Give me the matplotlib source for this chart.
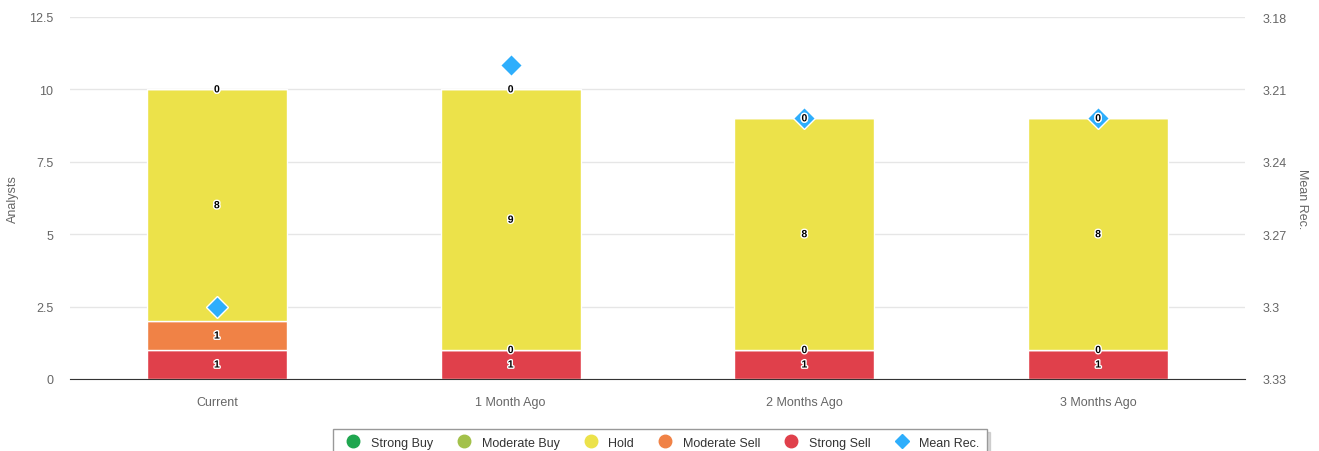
import matplotlib.pyplot as plt
import matplotlib.patheffects as pe
from matplotlib.lines import Line2D
import numpy as np

plt.rcParams['font.family'] = ['Liberation Sans', 'DejaVu Sans']

periods = ['Current', '1 Month Ago', '2 Months Ago', '3 Months Ago']
strong_sell = [1, 1, 1, 1]
moderate_sell = [1, 0, 0, 0]
hold = [8, 9, 8, 8]
moderate_buy = [0, 0, 0, 0]
strong_buy = [0, 0, 0, 0]
mean_rec = [3.30, 3.20, 3.222, 3.222]

series = [
    ('Strong Sell', strong_sell, '#e0404b'),
    ('Moderate Sell', moderate_sell, '#f08246'),
    ('Hold', hold, '#ece24a'),
    ('Moderate Buy', moderate_buy, '#a3c14a'),
    ('Strong Buy', strong_buy, '#1fa64f'),
]

fig = plt.figure(figsize=(13.19, 4.52), dpi=100)
ax = fig.add_axes([70 / 1319, 1 - 380 / 452, 1175 / 1319, 362 / 452])
ax2 = ax.twinx()

x = np.arange(len(periods))
bottom = np.zeros(len(periods))
for name, vals, col in series:
    vals = np.array(vals, dtype=float)
    ax.bar(x, vals, 0.477, bottom=bottom, color=col, edgecolor='white',
           linewidth=1, zorder=2)
    # labels go on ax2 so they sit above the diamonds
    for xi, b, v in zip(x, bottom, vals):
        ax2.text(xi, b + v / 2, f'{int(v)}', ha='center', va='center',
                 transform=ax.transData,
                 fontsize=7.5, fontweight='bold', color='black', zorder=8,
                 path_effects=[pe.withStroke(linewidth=2, foreground='white')])
    bottom += vals

ax.set_xlim(-0.5, len(periods) - 0.5)
ax.set_ylim(0, 12.5)
ax.set_yticks([0, 2.5, 5, 7.5, 10, 12.5])
ax.set_yticklabels(['0', '2.5', '5', '7.5', '10', '12.5'])
ax.set_xticks(x)
ax.set_xticklabels(periods)
ax.grid(axis='y', color='#e6e6e6', linewidth=1, zorder=0)
ax.set_axisbelow(True)
for s in ['top', 'right', 'left']:
    ax.spines[s].set_visible(False)
ax.spines['bottom'].set_color('#333333')
ax.tick_params(axis='both', length=0, labelsize=9, colors='#666666')
ax.tick_params(axis='x', pad=12)
ax.tick_params(axis='y', pad=12)
ax.set_ylabel('Analysts', fontsize=9, color='#666666', labelpad=7)

ax2.set_ylim(3.33, 3.18)
ax2.set_yticks([3.18, 3.21, 3.24, 3.27, 3.3, 3.33])
ax2.set_yticklabels(['3.18', '3.21', '3.24', '3.27', '3.3', '3.33'])
ax2.plot(x, mean_rec, linestyle='none', marker='D', markersize=11,
         color='#2eaefc', markeredgecolor='white', markeredgewidth=1, zorder=6)
for s in ['top', 'right', 'left', 'bottom']:
    ax2.spines[s].set_visible(False)
ax2.tick_params(axis='y', length=0, labelsize=9, colors='#666666', pad=13)
ax2.set_ylabel('Mean Rec.', fontsize=9, color='#666666', rotation=270,
               labelpad=15)
ax.set_zorder(1)
ax2.set_zorder(2)
ax2.patch.set_visible(False)

handles = [
    Line2D([], [], linestyle='none', marker='o', markersize=9, color='#1fa64f'),
    Line2D([], [], linestyle='none', marker='o', markersize=9, color='#a3c14a'),
    Line2D([], [], linestyle='none', marker='o', markersize=9, color='#ece24a'),
    Line2D([], [], linestyle='none', marker='o', markersize=9, color='#f08246'),
    Line2D([], [], linestyle='none', marker='o', markersize=9, color='#e0404b'),
    Line2D([], [], linestyle='none', marker='D', markersize=7, color='#2eaefc'),
]
labels = ['Strong Buy', 'Moderate Buy', 'Hold', 'Moderate Sell', 'Strong Sell', 'Mean Rec.']
leg = fig.legend(handles, labels, loc='upper center', bbox_to_anchor=(660 / 1319, 1 - 424 / 452),
                 ncol=6, frameon=True, fontsize=9, handletextpad=0.4,
                 columnspacing=1.5, fancybox=False,
                 shadow={'color': '#bbbbbb', 'alpha': 0.6},
                 borderpad=0.6)
leg.get_frame().set_edgecolor('#999999')
for t in leg.get_texts():
    t.set_color('#333333')

fig.savefig('out.png', dpi=100)
